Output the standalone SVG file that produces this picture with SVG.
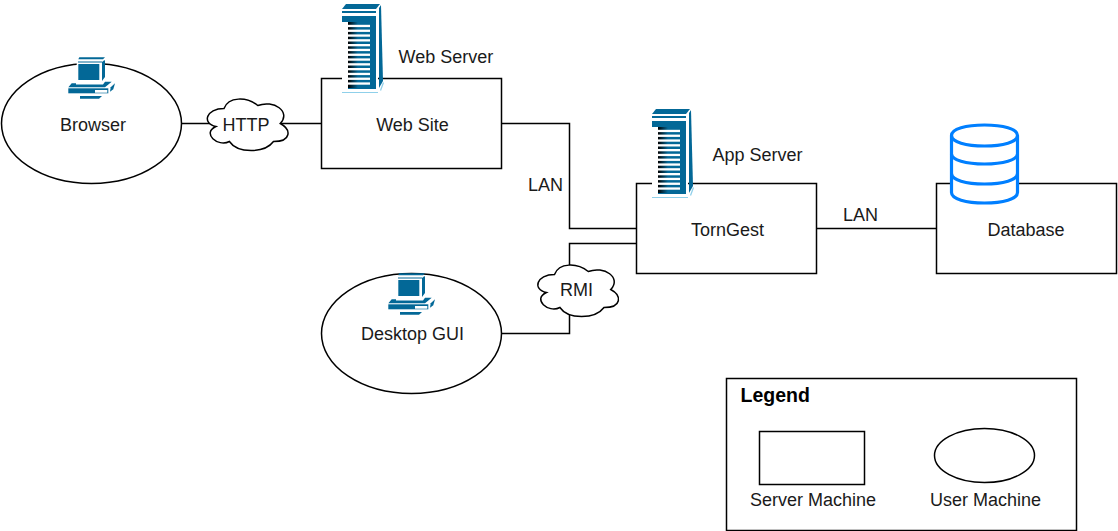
<svg xmlns="http://www.w3.org/2000/svg" xmlns:xlink="http://www.w3.org/1999/xlink" width="1118" height="531" viewBox="0 0 1118 531">
<style>
.s{fill:#fff;stroke:#000;stroke-width:1.5}
.c{fill:none;stroke:#000;stroke-width:1.5}
.t{font-family:"Liberation Sans",Arial,sans-serif;font-size:18px;fill:#1a1a1a;text-anchor:middle}
.l{font-family:"Liberation Sans",Arial,sans-serif;font-size:18px;fill:#1a1a1a}
.b{fill:#036897}
.w{fill:#fff}
.lb{fill:#8fd0ea}
.db{fill:#fff;stroke:#007fff;stroke-width:3.2;stroke-linejoin:round}
.dl{fill:none;stroke:#007fff;stroke-width:3.2}
</style>
<defs>
<linearGradient id="g" x1="0" x2="1" y1="0" y2="0"><stop offset="0" stop-color="#000"/><stop offset="0.45" stop-color="#036897"/><stop offset="1" stop-color="#036897"/></linearGradient>
<path id="cloud" class="s" d="M22.5 15C4.5 15 0 30 14.4 33C0 39.6 16.2 54 27.9 48C36 60 63 60 72 48C90 48 90 36 78.75 30C90 18 72 6 56.25 12C45 3 27 3 22.5 15Z"/>
<g id="server">
<rect x="0" y="6" width="36" height="86" class="w"/>
<polygon class="b" points="0,6 4,1 38,1 34,6"/>
<rect x="0" y="8" width="34" height="2" class="b"/>
<rect x="0" y="13" width="34" height="6" class="b"/>
<rect x="6" y="19" width="22" height="66" fill="url(#g)"/>
<rect x="28" y="19" width="6" height="67" class="b"/>
<rect x="6" y="85" width="28" height="1" class="b"/>
<g class="w">
<rect x="6" y="21.8" width="22" height="2.3"/><rect x="6" y="26.6" width="22" height="2.3"/><rect x="6" y="31.4" width="22" height="2.3"/><rect x="6" y="36.2" width="22" height="2.3"/><rect x="6" y="41" width="22" height="2.3"/><rect x="6" y="45.8" width="22" height="2.3"/><rect x="6" y="50.6" width="22" height="2.3"/><rect x="6" y="55.4" width="22" height="2.3"/><rect x="6" y="60.2" width="22" height="2.3"/><rect x="6" y="65" width="22" height="2.3"/><rect x="6" y="69.8" width="22" height="2.3"/><rect x="6" y="74.6" width="22" height="2.3"/><rect x="6" y="79.4" width="22" height="2.3"/>
</g>
<polygon class="b" points="37,5 39,2 41,78 37,85"/>
<rect x="0" y="89" width="36" height="1" class="lb"/>
<polygon class="lb" points="38,87 41,79 42,80 39,88"/>
</g>
<g id="pc">
<polygon class="b" points="11.3,1.3 37,1.3 35,3.3 10.3,3.3"/>
<rect x="8.7" y="5" width="28" height="22" class="w"/>
<rect x="10.3" y="8" width="21" height="16" class="b"/>
<rect x="10" y="5.5" width="24" height="1" class="b"/>
<polygon class="b" points="34,6 36.5,4 37,5 37,21 34,25"/>
<polygon class="b" points="3.7,27.3 8,27.3 8,28.5 35,28.5 37,25.7 43.7,25.7 37,31.3 0.3,31.3"/>
<rect x="0.3" y="32.3" width="40" height="5" class="b"/>
<rect x="27" y="34" width="12.3" height="2.7" class="w"/>
<polygon class="b" points="42.7,31.3 47,27.3 45.3,33.3 42,35.7"/>
<polygon class="b" points="12,40 34,40 31,42.7 12,42.7"/>
</g>
</defs>

<g id="connectors">
<path class="c" d="M181.5 123.5H321.5"/>
<path class="c" d="M501.5 123.5H569.5V228.5H636.5"/>
<path class="c" d="M816.5 228.5H936.5"/>
<path class="c" d="M501.5 333.5H569.5V243.5H636.5"/>
</g>

<g id="browser">
<ellipse class="s" cx="91.5" cy="123.5" rx="90" ry="60"/>
<use xlink:href="#pc" href="#pc" x="68" y="56"/>
<text class="t" x="93" y="131">Browser</text>
</g>
<g id="http"><use xlink:href="#cloud" href="#cloud" x="201.5" y="93.5"/><text class="t" x="246" y="131">HTTP</text></g>
<g id="website">
<rect class="s" x="321.5" y="78.5" width="180" height="90"/>
<use xlink:href="#server" href="#server" x="342" y="3"/>
<text class="l" x="398.5" y="63">Web Server</text>
<text class="t" x="412.5" y="131">Web Site</text>
</g>
<g id="torngest">
<rect class="s" x="636.5" y="183.5" width="180" height="90"/>
<use xlink:href="#server" href="#server" x="652" y="108"/>
<text class="l" x="712.5" y="161">App Server</text>
<text class="t" x="727.5" y="236">TornGest</text>
</g>
<g id="database">
<rect class="s" x="936.5" y="183.5" width="180" height="90"/>
<path class="db" d="M951.5 135.5C951.5 129 966 125 984.5 125C1003 125 1017.5 129 1017.5 135.5V192.5C1017.5 199 1003 203 984.5 203C966 203 951.5 199 951.5 192.5Z"/>
<path class="dl" d="M951.5 135.5C951.5 142 966 146 984.5 146C1003 146 1017.5 142 1017.5 135.5M951.5 154C951.5 160 966 164 984.5 164C1003 164 1017.5 160 1017.5 154M951.5 173.5C951.5 180 966 184 984.5 184C1003 184 1017.5 180 1017.5 173.5"/>
<text class="t" x="1026" y="236">Database</text>
</g>
<g id="rmi"><use xlink:href="#cloud" href="#cloud" x="532" y="259.5"/><text class="t" x="576.5" y="296">RMI</text></g>
<g id="desktop">
<ellipse class="s" cx="411.5" cy="333.5" rx="90" ry="60"/>
<use xlink:href="#pc" href="#pc" x="388" y="272"/>
<text class="t" x="412.5" y="340">Desktop GUI</text>
</g>
<text class="l" x="528" y="191">LAN</text>
<text class="l" x="843" y="221">LAN</text>
<g id="legend">
<rect class="s" x="726.5" y="378.5" width="350" height="152"/>
<text class="l" x="740.5" y="402" font-weight="bold" style="fill:#000;font-size:19.5px">Legend</text>
<rect class="s" x="759.5" y="431.5" width="105" height="53"/>
<text class="t" x="813" y="506">Server Machine</text>
<ellipse class="s" cx="984.5" cy="455.5" rx="50" ry="27"/>
<text class="t" x="985.5" y="506">User Machine</text>
</g>
</svg>
